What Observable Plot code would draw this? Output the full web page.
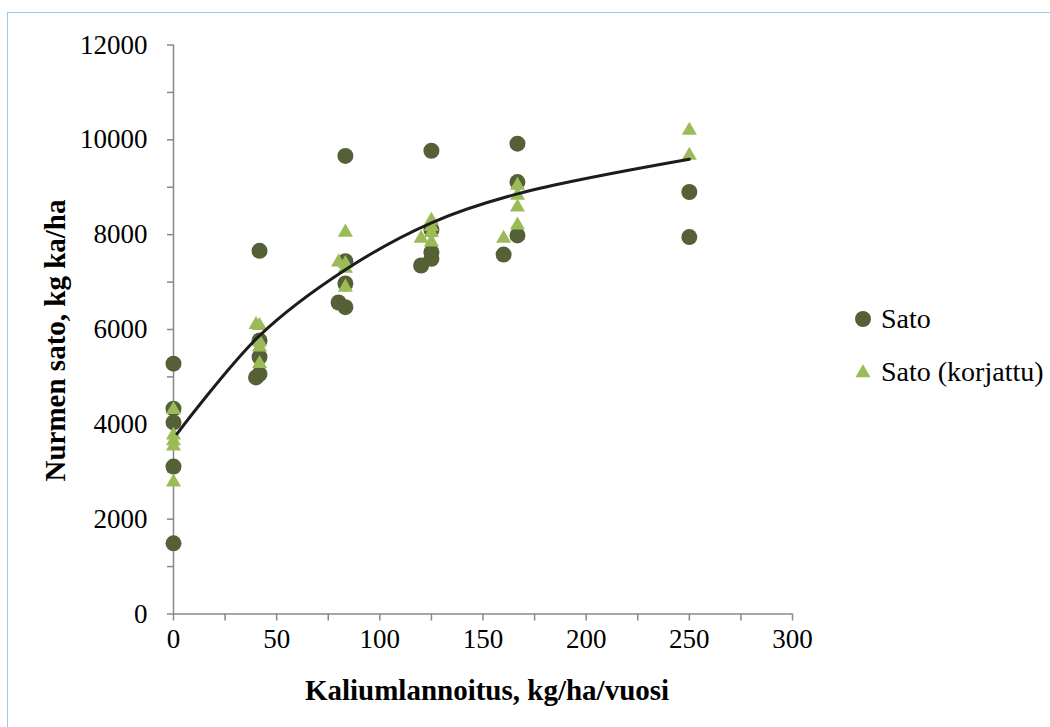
<!DOCTYPE html>
<html>
<head>
<meta charset="utf-8">
<script src="https://cdn.jsdelivr.net/npm/d3@7"></script>
<script src="https://cdn.jsdelivr.net/npm/@observablehq/plot@0.6"></script>
<style>
  html, body { margin: 0; padding: 0; background: #fff; }
  #wrap { position: relative; width: 1050px; height: 727px; overflow: hidden; font-family: "Liberation Serif", "Times New Roman", serif; }
  #frame { position: absolute; left: 7px; top: 12px; width: 1100px; height: 800px; border-top: 1.5px solid #9dc9e8; border-left: 1.5px solid #9dc9e8; }
  #chart { position: absolute; left: 0; top: 0; }
  .leg { position: absolute; left: 852px; font-size: 28px; color: #000; display: flex; align-items: center; white-space: nowrap; font-family: "Liberation Serif", "Times New Roman", serif; }
  .leg svg { margin-right: 7px; }
</style>
</head>
<body>
<div id="wrap">
  <div id="frame"></div>
  <div id="chart"></div>
  <div class="leg" id="leg1" style="top:303px"></div>
  <div class="leg" id="leg2" style="top:356px"></div>
</div>
<script>
// ---- data ----
const satoX = [0, 0, 0, 0, 0,
  41.7, 41.7, 41.7, 41.7, 40,
  83.3, 83.3, 83.3, 80, 83.3,
  125, 125, 125, 125, 120,
  166.7, 166.7, 166.7, 160,
  250, 250];
const satoY = [5280, 4330, 4040, 3110, 1490,
  7660, 5770, 5420, 5060, 4990,
  9660, 7440, 6970, 6570, 6470,
  9770, 8100, 7630, 7490, 7350,
  9920, 9110, 7985, 7580,
  8900, 7950];
const korjX = [0, 0, 0, 0, 0,
  40, 41.7, 41.7, 41.7, 41.7,
  83.3, 80, 83.3, 83.3, 83.3,
  125, 125, 125, 120, 125,
  166.7, 166.7, 166.7, 166.7, 160,
  250, 250];
const korjY = [4310, 3770, 3650, 3540, 2780,
  6100, 6080, 5740, 5630, 5280,
  8050, 7420, 7390, 7290, 6890,
  8300, 8170, 8040, 7920, 7840,
  9040, 8830, 8580, 8200, 7920,
  10200, 9670];
const fitX = [1.7, 41.7, 83.3, 125, 166.7, 250];
const fitY = [3800, 5870, 7260, 8250, 8860, 9590];
const xTicks = [0, 25, 50, 75, 100, 125, 150, 175, 200, 225, 250, 275, 300];
const yTicks = [0, 1000, 2000, 3000, 4000, 5000, 6000, 7000, 8000, 9000, 10000, 11000, 12000];
const xLabelStep = 50, yLabelStep = 2000;
const seriesNames = ["Sato", "Sato (korjattu)"];
const xTitle = "Kaliumlannoitus, kg/ha/vuosi";
const yTitle = "Nurmen sato, kg ka/ha";

const sato = satoX.map((x, i) => ({x, y: satoY[i]}));
const korj = korjX.map((x, i) => ({x, y: korjY[i]}));
const fit = fitX.map((x, i) => ({x, y: fitY[i]}));

const C_DARK = "#566037", C_LIGHT = "#9bbb59", AXIS = "#888888";
const SERIF = "'Liberation Serif', 'Times New Roman', serif";

const plot = Plot.plot({
  width: 1050,
  height: 727,
  marginLeft: 173,
  marginRight: 258,
  marginTop: 44.5,
  marginBottom: 113.5,
  style: {fontFamily: SERIF, fontSize: "27px", color: "#000", background: "transparent"},
  x: {domain: [0, 300], axis: null},
  y: {domain: [0, 12000], axis: null},
  marks: [
    Plot.axisY({ticks: yTicks, tickSize: 6, tickPadding: 20, stroke: AXIS, strokeWidth: 1.5, fill: "#000", fontSize: 27,
      tickFormat: d => d % yLabelStep === 0 ? String(d) : "", label: null}),
    Plot.axisX({ticks: xTicks, tickSize: 7, tickPadding: 8, stroke: AXIS, strokeWidth: 1.5, fill: "#000", fontSize: 27,
      tickFormat: d => d % xLabelStep === 0 ? String(d) : "", label: null}),
    Plot.ruleX([0], {y1: 0, y2: 12000, stroke: AXIS, strokeWidth: 1.5}),
    Plot.ruleY([0], {x1: 0, x2: 300, stroke: AXIS, strokeWidth: 1.5}),
    Plot.dot(sato, {x: "x", y: "y", r: 8, fill: C_DARK, stroke: "none"}),
    Plot.dot(korj, {x: "x", y: "y", symbol: "triangle", r: 5.6, fill: C_LIGHT, stroke: "none"}),
    Plot.line(fit, {x: "x", y: "y", stroke: "#1c1c1c", strokeWidth: 3, curve: "catmull-rom"}),
    Plot.text([xTitle], {frameAnchor: "bottom", textAnchor: "middle", lineAnchor: "middle", dx: 4, dy: 77, text: d => d, fontWeight: "bold", fontSize: 29, fill: "#000"}),
    Plot.text([yTitle], {frameAnchor: "left", textAnchor: "middle", lineAnchor: "middle", dx: -118, dy: 11, rotate: -90, text: d => d, fontWeight: "bold", fontSize: 29, fill: "#000"})
  ]
});
document.getElementById("chart").appendChild(plot);

// legend
document.getElementById("leg1").innerHTML =
  `<svg width="22" height="22"><circle cx="11" cy="11" r="8" fill="${C_DARK}"/></svg><span>${seriesNames[0]}</span>`;
document.getElementById("leg2").innerHTML =
  `<svg width="22" height="22"><path d="${d3.symbol(d3.symbolTriangle, Math.PI * 5.6 * 5.6)()}" transform="translate(11,12)" fill="${C_LIGHT}"/></svg><span>${seriesNames[1]}</span>`;
</script>
</body>
</html>
